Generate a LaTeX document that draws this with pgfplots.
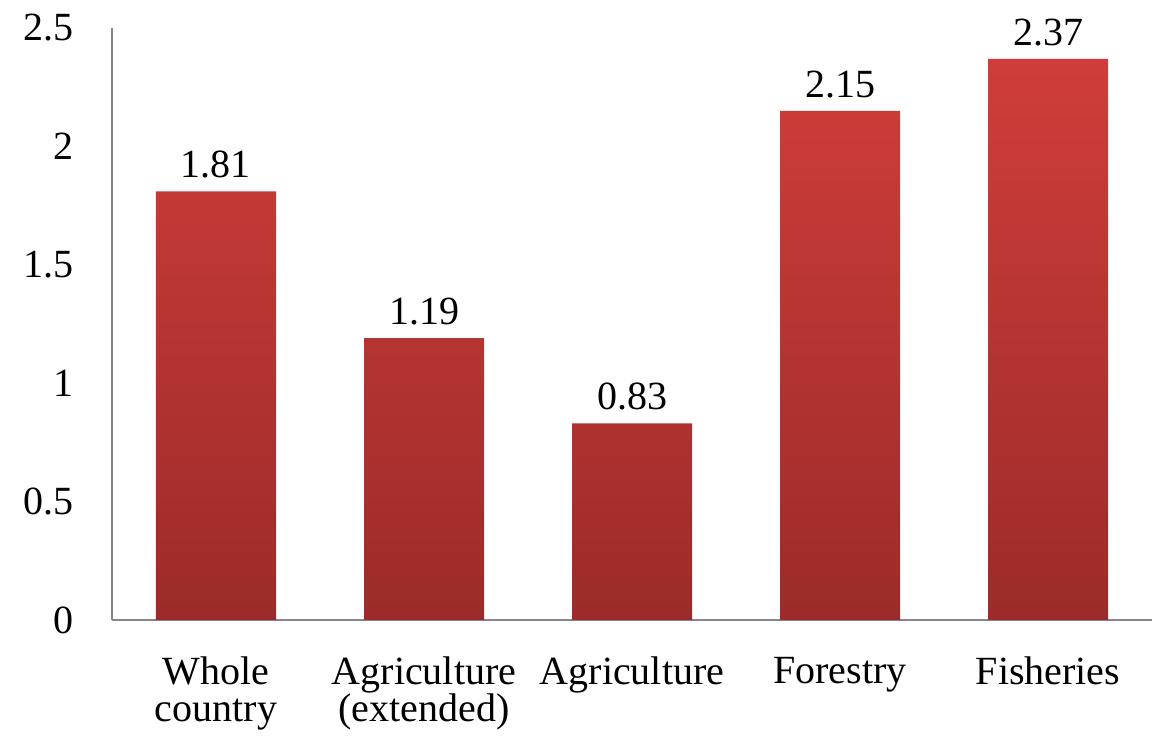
\documentclass[border=0pt]{standalone}
\usepackage{pgfplots}
\pgfplotsset{compat=1.18}
\usepackage{fontspec}
\setmainfont{Liberation Serif}
\definecolor{bartop}{RGB}{208,61,58}
\definecolor{barbot}{RGB}{155,43,41}
\definecolor{axgray}{RGB}{134,134,134}
\begin{document}
\begin{tikzpicture}
\begin{axis}[
  name=ax,
  scale only axis,
  width=520pt, height=296pt,
  xmin=-0.5, xmax=4.5,
  ymin=0, ymax=2.5,
  ytick={0,0.5,1,1.5,2,2.5},
  xtick=data,
  xticklabels={{Whole\\country},{Agriculture\\(extended)},{Agriculture},{Forestry},{Fisheries}},
  axis x line*=bottom,
  axis y line*=left,
  axis line style={-, draw=axgray, line width=0.8pt},
  major tick length=0pt,
  /pgf/number format/assume math mode=true,
  tick label style={font=\fontsize{20}{18.5}\selectfont},
  xticklabel style={align=center, yshift=-15pt},
  yticklabel style={xshift=-15.5pt},
  nodes near coords={\pgfmathprintnumber[fixed,fixed zerofill,precision=2]{\pgfplotspointmeta}},
  nodes near coords style={font=\fontsize{20}{18.5}\selectfont, black, yshift=3pt},
  clip=false,
]
\addplot[ybar, bar width=60pt, draw=none, top color=bartop, bottom color=barbot] coordinates {
  (0,1.81) (1,1.19) (2,0.83) (3,2.15) (4,2.37)
};
\end{axis}
\pgfresetboundingbox
\path ([shift={(-56pt,-60.5pt)}]ax.south west) rectangle ([shift={(4.5pt,14pt)}]ax.north east);
\end{tikzpicture}
\end{document}
